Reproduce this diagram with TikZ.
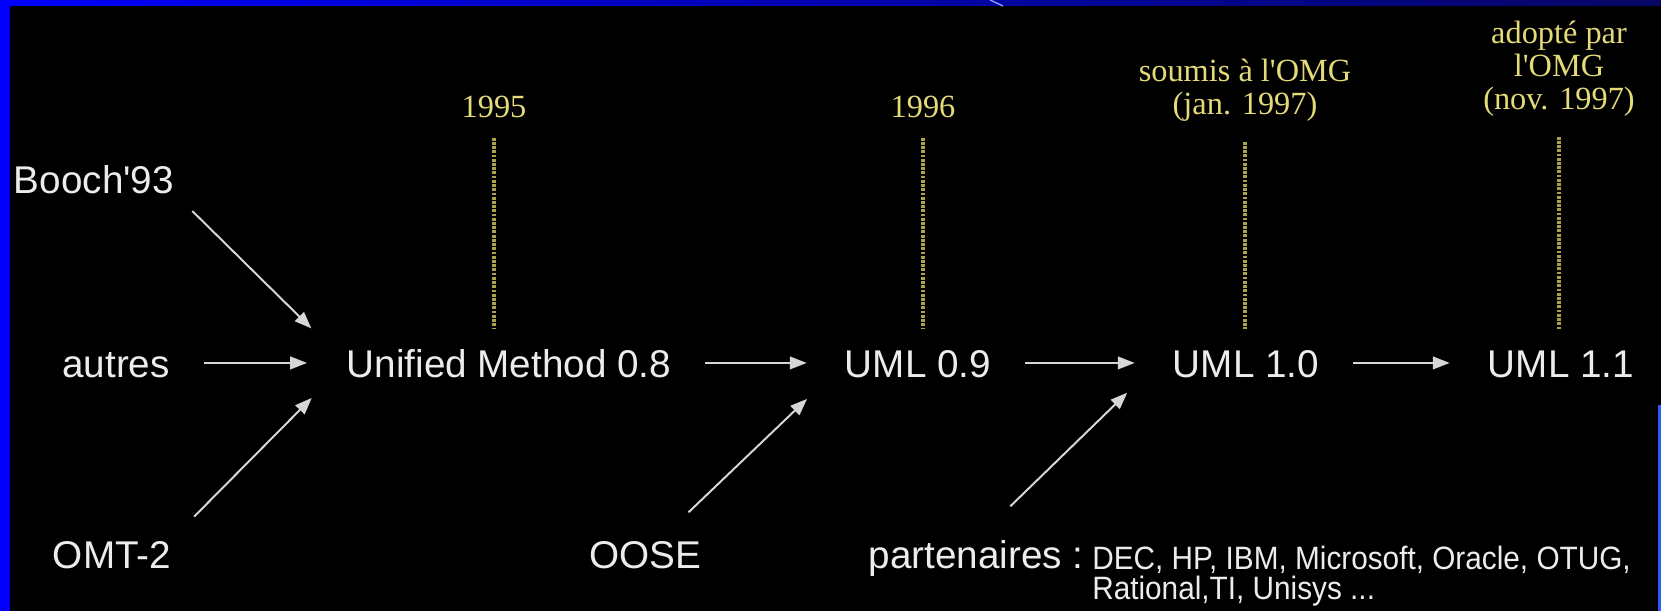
\documentclass[tikz,border=0pt]{standalone}
\usepackage{graphicx}
\usepackage{fontspec}
\setmainfont{Liberation Sans}
\newfontfamily\datefont{Liberation Serif}
\usetikzlibrary{arrows.meta}

\definecolor{datecol}{RGB}{228,218,120}
\definecolor{guidecol}{RGB}{172,162,72}
\definecolor{wordcol}{RGB}{236,236,236}
\definecolor{flowcol}{RGB}{214,214,214}
\definecolor{frameblue}{RGB}{0,0,250}
\definecolor{framenavy}{RGB}{6,6,100}
\definecolor{edgeblue}{RGB}{40,90,255}

\tikzset{
  version/.style={text=wordcol, font=\fontsize{27.5}{30}\selectfont,
    inner sep=0pt, text height=20pt, text depth=0pt, anchor=base},
  firmline/.style={text=wordcol, font=\fontsize{23}{26}\selectfont,
    inner sep=0pt, anchor=base west},
  yearlabel/.style={text=datecol, font=\datefont\fontsize{23}{23.5}\selectfont,
    inner sep=0pt, align=center, anchor=south},
  flow/.style={draw=flowcol, line width=1.4pt, -{Triangle[length=12pt,width=9pt]}},
  guide/.style={draw=guidecol, line width=2.2pt, dash pattern=on 2pt off 1pt,
    shorten <=14pt, shorten >=14pt},
}

\begin{document}
\begin{tikzpicture}[x=0.025cm, y=-0.025cm]
\useasboundingbox (0,0) rectangle (1661,611);
\fill[black] (0,0) rectangle (1661,611);
\shade[left color=frameblue, right color=framenavy] (0,0) rectangle (1661,6);
\fill[frameblue] (0,0) rectangle (10,611);
\fill[edgeblue] (1658,405) rectangle (1661,611);
\draw[edgeblue!60!white, line width=1pt] (990,0) -- (1003,6);

\node[version] (booch) at (94,193) {Booch\textquotesingle 93};
\node[version] (autres) at (116,377) {autres};
\node[version] (omt) at (112,568) {OMT-2};
\node[version] (um) at (509,377) {Unified Method 0.8};
\node[version] (uml09) at (918,377) {UML 0.9};
\node[version] (uml10) at (1246,377) {UML 1.0};
\node[version] (uml11) at (1561,377) {UML 1.1};
\node[version] (oose) at (645,568) {OOSE};
\node[version] (partners) at (976,568) {partenaires :};
\node[firmline] (firms) at (1092,569)
  {\scalebox{0.92}[1]{DEC, HP, IBM, Microsoft, Oracle, OTUG,}};
\node[firmline] (firmsmore) at (1092,599)
  {\scalebox{0.92}[1]{Rational,TI, Unisys ...}};

\node[yearlabel] (y95) at (494,118) {1995};
\node[yearlabel] (y96) at (923,118) {1996};
\node[yearlabel] (y97a) at (1245,122) {soumis à l\textquotesingle OMG\\(jan. 1997)};
\node[yearlabel] (y97b) at (1559,117) {adopté par\\l\textquotesingle OMG\\(nov. 1997)};

\draw[guide] (y95.south) -- (y95.south |- um.north);
\draw[guide] (y96.south) -- (y96.south |- uml09.north);
\draw[guide] (y97a.south) -- (y97a.south |- uml10.north);
\draw[guide] (y97b.south) -- (y97b.south |- uml11.north);

\draw[flow, shorten <=18pt, shorten >=35pt] (booch.south east) -- (um.west);
\draw[flow, shorten <=24pt, shorten >=28pt] (autres) -- (um);
\draw[flow, shorten <=23pt, shorten >=35pt] (omt.north east) -- (um.west);
\draw[flow, shorten <=24pt, shorten >=27pt] (um) -- (uml09);
\draw[flow, shorten <=28pt, shorten >=37pt] (oose) -- (uml09.west);
\draw[flow, shorten <=24pt, shorten >=27pt] (uml09) -- (uml10);
\draw[flow, shorten <=34pt, shorten >=45pt] (partners.north) -- (uml10.north west);
\draw[flow, shorten <=24pt, shorten >=27pt] (uml10) -- (uml11);
\end{tikzpicture}
\end{document}
